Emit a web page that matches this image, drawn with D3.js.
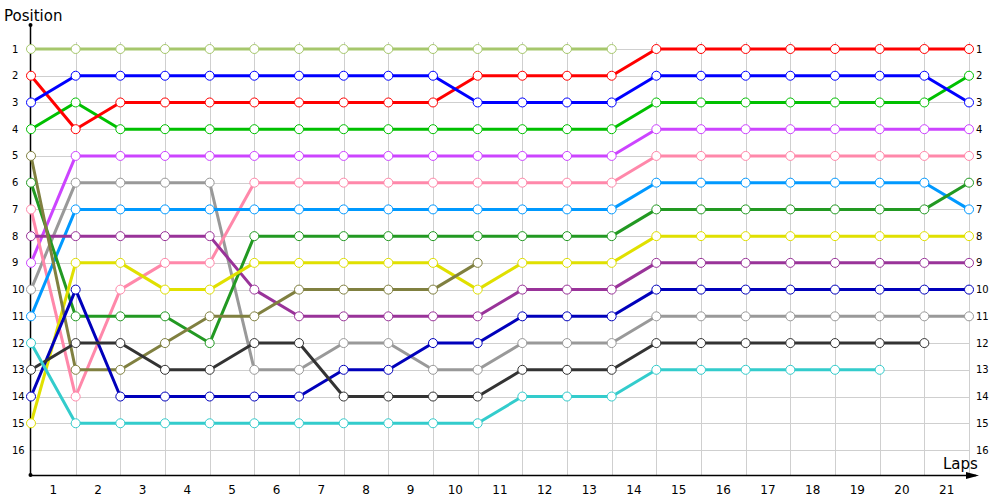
<!DOCTYPE html>
<html>
<head>
<meta charset="utf-8">
<script src="https://cdn.jsdelivr.net/npm/d3@7"></script>
<style>
  body { margin: 0; background: #fff; }
  text { font-family: "DejaVu Sans", Tahoma, sans-serif; }
</style>
</head>
<body>
<div id="lap_chart"></div>
<script>
// Lap labels on the x axis (lap 0 = grid start)
const lapLabels = [1, 2, 3, 4, 5, 6, 7, 8, 9, 10, 11, 12, 13, 14, 15, 16, 17, 18, 19, 20, 21];
const positionLabels = [1, 2, 3, 4, 5, 6, 7, 8, 9, 10, 11, 12, 13, 14, 15, 16];

// Position of each car at every lap (index 0 = start); shorter arrays = retired
const lightGreenCar = [1, 1, 1, 1, 1, 1, 1, 1, 1, 1, 1, 1, 1, 1];
const redCar = [2, 4, 3, 3, 3, 3, 3, 3, 3, 3, 2, 2, 2, 2, 1, 1, 1, 1, 1, 1, 1, 1];
const blueCar = [3, 2, 2, 2, 2, 2, 2, 2, 2, 2, 3, 3, 3, 3, 2, 2, 2, 2, 2, 2, 2, 3];
const greenCar = [4, 3, 4, 4, 4, 4, 4, 4, 4, 4, 4, 4, 4, 4, 3, 3, 3, 3, 3, 3, 3, 2];
const magentaCar = [9, 5, 5, 5, 5, 5, 5, 5, 5, 5, 5, 5, 5, 5, 4, 4, 4, 4, 4, 4, 4, 4];
const grayCar = [10, 6, 6, 6, 6, 13, 13, 12, 12, 13, 13, 12, 12, 12, 11, 11, 11, 11, 11, 11, 11, 11];
const pinkCar = [7, 14, 10, 9, 9, 6, 6, 6, 6, 6, 6, 6, 6, 6, 5, 5, 5, 5, 5, 5, 5, 5];
const skyBlueCar = [11, 7, 7, 7, 7, 7, 7, 7, 7, 7, 7, 7, 7, 7, 6, 6, 6, 6, 6, 6, 6, 7];
const purpleCar = [8, 8, 8, 8, 8, 10, 11, 11, 11, 11, 11, 10, 10, 10, 9, 9, 9, 9, 9, 9, 9, 9];
const darkGreenCar = [6, 11, 11, 11, 12, 8, 8, 8, 8, 8, 8, 8, 8, 8, 7, 7, 7, 7, 7, 7, 7, 6];
const yellowCar = [15, 9, 9, 10, 10, 9, 9, 9, 9, 9, 10, 9, 9, 9, 8, 8, 8, 8, 8, 8, 8, 8];
const oliveCar = [5, 13, 13, 12, 11, 11, 10, 10, 10, 10, 9];
const navyCar = [14, 10, 14, 14, 14, 14, 14, 13, 13, 12, 12, 11, 11, 11, 10, 10, 10, 10, 10, 10, 10, 10];
const darkGrayCar = [13, 12, 12, 13, 13, 12, 12, 14, 14, 14, 14, 13, 13, 13, 12, 12, 12, 12, 12, 12, 12];
const cyanCar = [12, 15, 15, 15, 15, 15, 15, 15, 15, 15, 15, 14, 14, 14, 13, 13, 13, 13, 13, 13];

const cars = [
    { color: "#a6c76c", laps: lightGreenCar },
    { color: "#00c000", laps: greenCar },
    { color: "#ff0000", laps: redCar },
    { color: "#0000ff", laps: blueCar },
    { color: "#cc44ff", laps: magentaCar },
    { color: "#999999", laps: grayCar },
    { color: "#ff88aa", laps: pinkCar },
    { color: "#0099ff", laps: skyBlueCar },
    { color: "#993399", laps: purpleCar },
    { color: "#229922", laps: darkGreenCar },
    { color: "#e0e000", laps: yellowCar },
    { color: "#808040", laps: oliveCar },
    { color: "#0000bb", laps: navyCar },
    { color: "#333333", laps: darkGrayCar },
    { color: "#33cccc", laps: cyanCar }
];

const chart_width = 1000, chart_height = 500;

const svg = d3.select("#lap_chart")
    .append("svg")
    .attr("width", chart_width)
    .attr("height", chart_height);

// Scales
const x = d3.scaleLinear().domain([0, 21]).range([31, 969]);
const y = d3.scaleLinear().domain([1, 16]).range([49, 450]);
const axisY = 475;

// Grid
const grid = svg.append("g").attr("stroke", "#cfcfcf").attr("stroke-width", 1);
grid.selectAll("line.v")
    .data(d3.range(1, 22))
    .enter()
    .append("line")
    .attr("x1", d => Math.round(x(d)) + 0.5)
    .attr("x2", d => Math.round(x(d)) + 0.5)
    .attr("y1", 42)
    .attr("y2", axisY);
grid.selectAll("line.h")
    .data(positionLabels)
    .enter()
    .append("line")
    .attr("x1", x(0))
    .attr("x2", Math.round(x(21)) + 0.5)
    .attr("y1", d => Math.round(y(d)) + 0.5)
    .attr("y2", d => Math.round(y(d)) + 0.5);

// Axes lines
svg.append("line")
    .attr("x1", 30.5).attr("x2", 30.5)
    .attr("y1", 25).attr("y2", axisY)
    .attr("stroke", "#000").attr("stroke-width", 1.5);
svg.append("line")
    .attr("x1", 30).attr("x2", 976)
    .attr("y1", axisY + 0.5).attr("y2", axisY + 0.5)
    .attr("stroke", "#000").attr("stroke-width", 1.5);
svg.append("path")
    .attr("d", `M966,${axisY - 3} L979,${axisY + 0.5} L966,${axisY + 4} Z`)
    .attr("fill", "#000");
svg.append("circle").attr("cx", 30.5).attr("cy", 25).attr("r", 2).attr("fill", "#000");
svg.append("circle").attr("cx", 30.5).attr("cy", axisY).attr("r", 2).attr("fill", "#000");

// Titles
svg.append("text")
    .attr("x", 4).attr("y", 21)
    .style("font-size", "15px")
    .text("Position");
svg.append("text")
    .attr("x", 943).attr("y", 469)
    .style("font-size", "15px")
    .text("Laps");

// Tick labels
svg.selectAll("text.left")
    .data(positionLabels)
    .enter()
    .append("text")
    .attr("x", 12)
    .attr("y", d => y(d))
    .attr("dy", "0.35em")
    .style("font-size", "10px")
    .text(d => d);
svg.selectAll("text.right")
    .data(positionLabels)
    .enter()
    .append("text")
    .attr("x", 976)
    .attr("y", d => y(d))
    .attr("dy", "0.35em")
    .style("font-size", "10px")
    .text(d => d);
svg.selectAll("text.bottom")
    .data(lapLabels)
    .enter()
    .append("text")
    .attr("x", d => x(d - 0.5))
    .attr("y", 490)
    .attr("dy", "0.35em")
    .attr("text-anchor", "middle")
    .style("font-size", "12px")
    .text(d => d);

// Lines
const line = d3.line()
    .x((d, i) => x(i))
    .y(d => y(d));

svg.append("g")
    .selectAll("path")
    .data(cars)
    .enter()
    .append("path")
    .attr("d", d => line(d.laps))
    .attr("fill", "none")
    .attr("stroke", d => d.color)
    .attr("stroke-width", 3)
    .attr("stroke-linejoin", "round");

// Markers
const markers = svg.append("g");
cars.forEach(car => {
    markers.selectAll(null)
        .data(car.laps)
        .enter()
        .append("circle")
        .attr("cx", (d, i) => x(i))
        .attr("cy", d => y(d))
        .attr("r", 4.5)
        .attr("fill", "#fff")
        .attr("stroke", car.color)
        .attr("stroke-width", 1);
});
</script>
</body>
</html>
